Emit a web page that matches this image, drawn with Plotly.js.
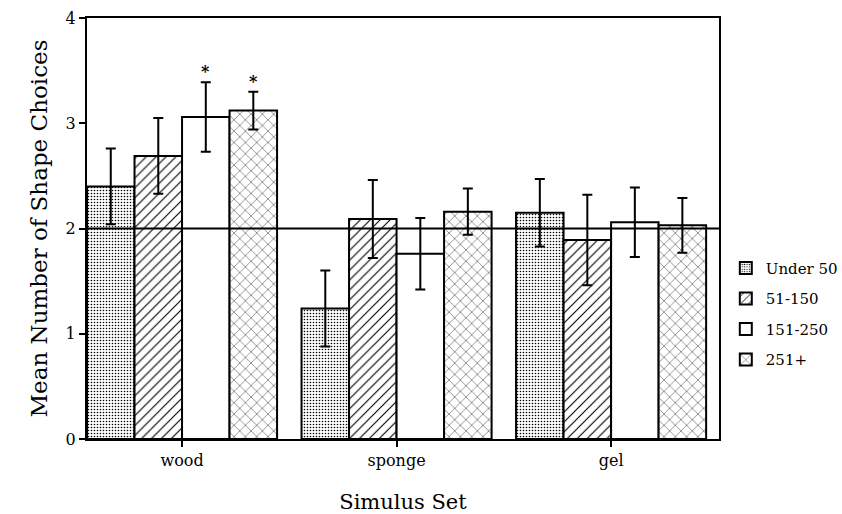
<!DOCTYPE html>
<html>
<head>
<meta charset="utf-8">
<script src="https://cdn.plot.ly/plotly-3.0.1.min.js"></script>
<style>html,body{margin:0;padding:0;background:#fff;}</style>
</head>
<body>
<div id="chart" style="width:842px;height:514px;"></div>
<script>
// ---- data ----
const categories = ["wood", "sponge", "gel"];
const seriesNames = ["Under 50", "51-150", "151-250", "251+"];
const under50 = [2.40, 1.24, 2.15];
const s51_150 = [2.69, 2.09, 1.89];
const s151_250 = [3.06, 1.76, 2.06];
const s251plus = [3.12, 2.16, 2.03];
const err_under50 = [0.36, 0.36, 0.32];
const err_51_150 = [0.36, 0.37, 0.43];
const err_151_250 = [0.33, 0.34, 0.33];
const err_251plus = [0.18, 0.22, 0.26];
const yTicks = [0, 1, 2, 3, 4];
const referenceLevel = 2;
// significance markers: [category index, series index]
const stars = [[0, 2], [0, 3]];

const values = [under50, s51_150, s151_250, s251plus];
const errors = [err_under50, err_51_150, err_151_250, err_251plus];
const patterns = [
  {shape: ".", size: 3, solidity: 0.22},
  {shape: "/", size: 7, solidity: 0.16},
  {shape: "", size: 8, solidity: 0.2},
  {shape: "x", size: 8, solidity: 0.1}
];

const FONT = "DejaVu Serif, Liberation Serif, serif";
const bargap = 0.114;

const traces = seriesNames.map((name, i) => ({
  type: "bar",
  name: name,
  x: categories,
  y: values[i],
  legendgroup: "g" + i,
  marker: {
    color: "white",
    line: {color: "black", width: 2},
    pattern: Object.assign({fgcolor: "black", bgcolor: "white", fillmode: "replace"}, patterns[i])
  },
  error_y: {type: "data", array: errors[i], symmetric: true, color: "black", thickness: 2, width: 5},
  hoverinfo: "skip"
}));

const nS = seriesNames.length;
const barW = (1 - bargap) / nS;
const annotations = stars.map(([c, s]) => ({
  x: c - (1 - bargap) / 2 + barW * (s + 0.5),
  y: values[s][c] + errors[s][c],
  xref: "x", yref: "y",
  text: "<b>*</b>", showarrow: false,
  yanchor: "bottom", yshift: -1,
  font: {family: FONT, size: 16, color: "black"}
}));

const layout = {
  width: 842, height: 514,
  margin: {l: 87, r: 123, t: 18, b: 75},
  paper_bgcolor: "white", plot_bgcolor: "white",
  barmode: "group", bargap: bargap, bargroupgap: 0,
  showlegend: true,
  legend: {
    xref: "container", yref: "container",
    x: 0.862, xanchor: "left", y: 0.51, yanchor: "top",
    traceorder: "grouped", tracegroupgap: 8,
    font: {family: FONT, size: 15, color: "black"},
    bgcolor: "rgba(0,0,0,0)"
  },
  xaxis: {
    type: "category",
    range: [-0.443, 2.503],
    showline: true, linecolor: "black", linewidth: 2, mirror: true,
    ticks: "outside", ticklen: 6, tickwidth: 2, tickcolor: "black",
    showgrid: false, zeroline: false,
    tickfont: {family: FONT, size: 16, color: "black"},
    title: {text: "Simulus Set", font: {family: FONT, size: 21, color: "black"}, standoff: 26}
  },
  yaxis: {
    range: [0, 4],
    tickvals: yTicks,
    showline: true, linecolor: "black", linewidth: 2, mirror: true,
    ticks: "outside", ticklen: 6, tickwidth: 2, tickcolor: "black",
    showgrid: false, zeroline: false,
    tickfont: {family: FONT, size: 16, color: "black"},
    title: {text: "Mean Number of Shape Choices", font: {family: FONT, size: 23, color: "black"}, standoff: 12}
  },
  shapes: [{
    type: "line", xref: "paper", x0: 0, x1: 1, yref: "y", y0: referenceLevel, y1: referenceLevel,
    line: {color: "black", width: 2}, layer: "above"
  }],
  annotations: annotations
};

Plotly.newPlot("chart", traces, layout, {displayModeBar: false, staticPlot: true});
</script>
</body>
</html>
